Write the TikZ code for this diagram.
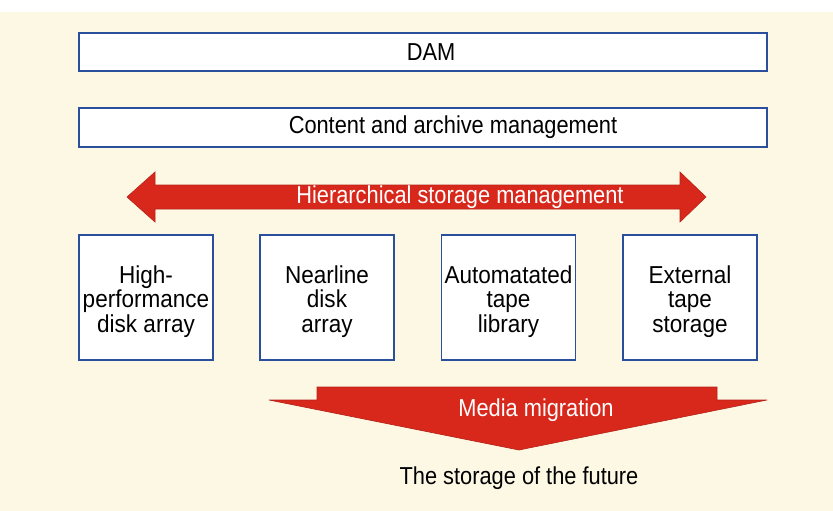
\documentclass[tikz,border=0pt]{standalone}
\usepackage{fontspec}
\setmainfont{Liberation Sans}[FakeStretch=0.89]
\newfontfamily\boxfont{Liberation Sans}[FakeStretch=0.92]
\definecolor{cream}{HTML}{FCF8E4}
\definecolor{boxblue}{HTML}{2A4F9C}
\definecolor{arrred}{HTML}{D8281C}
\begin{document}
\begin{tikzpicture}[x=1pt,y=-1pt,
  bar/.style={draw=boxblue,line width=1.8pt,fill=white,minimum width=688pt,inner sep=0pt},
  bartext/.style={font=\fontsize{24.5}{24.5}\selectfont,inner sep=0pt},
  store/.style={draw=boxblue,line width=1.8pt,fill=white,minimum width=134pt,minimum height=125pt,inner sep=0pt},
  storetext/.style={align=center,inner sep=0pt,font=\boxfont\fontsize{24.5}{24.5}\selectfont},
  redarrow/.style={fill=arrred,draw=arrred!85!black,line width=0.6pt},
  whitelabel/.style={text=white,font=\fontsize{24.5}{24.5}\selectfont},
]
\useasboundingbox (0,0) rectangle (833,511);
\fill[white] (0,0) rectangle (833,511);
\fill[cream] (0,12) rectangle (833,511);

\node[bar,minimum height=38pt] (dam) at (423,52) {};
\node[bartext] (damt) at ([xshift=8pt]dam.center) {DAM};
\node[bar,minimum height=39pt] (cam) at (423,127.5) {};
\node[bartext] (camt) at ([xshift=30pt]cam.center) {Content and archive management};

% hierarchical storage management double arrow
\draw[redarrow] (127,197) -- (155,172) -- (155,185) -- (680,185) -- (680,172) -- (706,197)
  -- (680,222) -- (680,209) -- (155,209) -- (155,222) -- cycle;
\node[whitelabel] (hsm) at (460,197) {Hierarchical storage management};

\node[store] (hp) at (146,297.5) {};
\node[store] (nl) at (327,297.5) {};
\node[store] (at) at (508.5,297.5) {};
\node[store] (et) at (690,297.5) {};
\node[storetext] (hpt) at ([yshift=-4pt]hp.center) {High-\\performance\\disk array};
\node[storetext] (nlt) at ([yshift=-4pt]nl.center) {Nearline\\disk\\array};
\node[storetext] (att) at ([yshift=-4pt]at.center) {Automatated\\tape\\library};
\node[storetext] (ett) at ([yshift=-4pt]et.center) {External\\tape\\storage};

% media migration arrow
\draw[redarrow] (317,387) -- (717,387) -- (717,400) -- (767,400) -- (519,450)
  -- (269,400) -- (317,400) -- cycle;
\node[whitelabel] (mm) at (536,410) {Media migration};

\node[font=\fontsize{24.5}{24.5}\selectfont] (fut) at (519,478) {The storage of the future};
\end{tikzpicture}
\end{document}
